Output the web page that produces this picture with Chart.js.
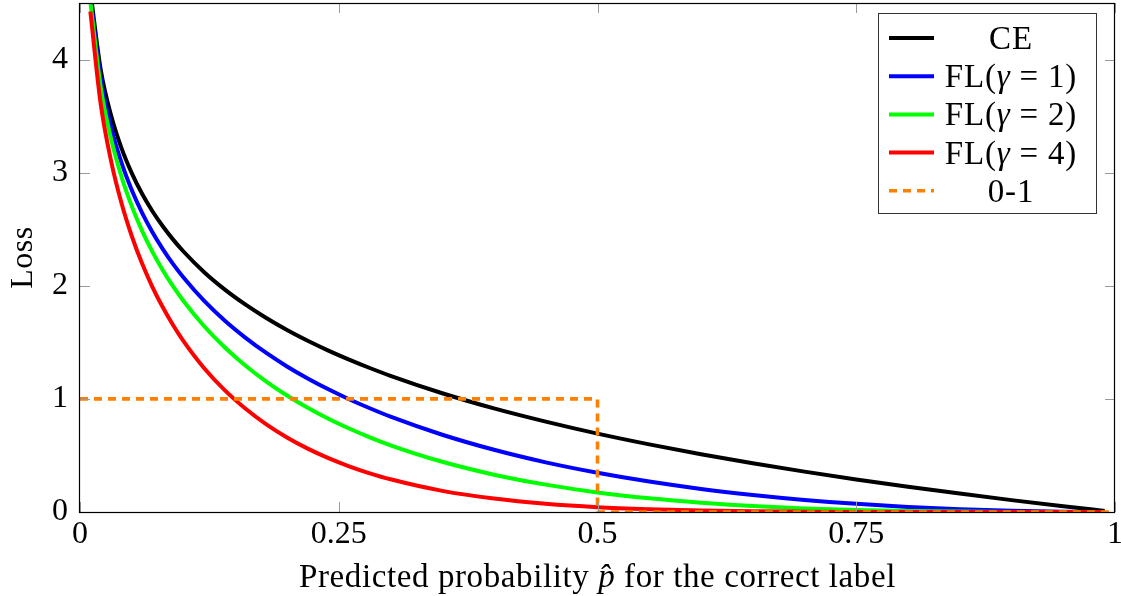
<!DOCTYPE html>
<html>
<head>
<meta charset="utf-8">
<title>Loss versus predicted probability</title>
<script src="https://cdn.jsdelivr.net/npm/chart.js@4/dist/chart.umd.min.js"></script>
<style>
  html, body { margin: 0; padding: 0; background: #ffffff; }
  #wrap { width: 1121px; height: 596px; }
</style>
</head>
<body>
<div id="wrap"><canvas id="lossChart" width="1121" height="596"></canvas></div>
<script>
// Predicted probability of the correct label (sample positions)
const probs = [0.01, 0.02, 0.03, 0.04, 0.05, 0.06, 0.07, 0.08, 0.09, 0.10,
               0.12, 0.14, 0.16, 0.18, 0.20, 0.22, 0.24, 0.26, 0.28, 0.30,
               0.35, 0.40, 0.45, 0.50, 0.55, 0.60, 0.65, 0.70, 0.75, 0.80,
               0.85, 0.90, 0.95, 0.99];

// Cross-entropy loss
const ceLoss = [4.605, 3.912, 3.507, 3.219, 2.996, 2.813, 2.659, 2.526, 2.408, 2.303,
                2.120, 1.966, 1.833, 1.715, 1.609, 1.514, 1.427, 1.347, 1.273, 1.204,
                1.050, 0.916, 0.799, 0.693, 0.598, 0.511, 0.431, 0.357, 0.288, 0.223,
                0.163, 0.105, 0.051, 0.010];
// Focal loss, gamma = 1
const flG1 = [4.559, 3.834, 3.402, 3.090, 2.846, 2.644, 2.473, 2.324, 2.191, 2.073,
              1.866, 1.691, 1.540, 1.406, 1.287, 1.181, 1.085, 0.997, 0.917, 0.843,
              0.683, 0.550, 0.439, 0.347, 0.269, 0.204, 0.151, 0.107, 0.072, 0.045,
              0.024, 0.011, 0.003, 0.000];
// Focal loss, gamma = 2
const flG2 = [4.514, 3.757, 3.300, 2.967, 2.704, 2.486, 2.300, 2.138, 1.994, 1.865,
              1.642, 1.454, 1.293, 1.153, 1.030, 0.921, 0.824, 0.738, 0.660, 0.590,
              0.444, 0.330, 0.242, 0.173, 0.121, 0.082, 0.053, 0.032, 0.018, 0.009,
              0.004, 0.001, 0.000, 0.000];
// Focal loss, gamma = 4
const flG4 = [4.424, 3.608, 3.105, 2.734, 2.440, 2.196, 1.989, 1.810, 1.651, 1.511,
              1.271, 1.075, 0.913, 0.775, 0.659, 0.560, 0.476, 0.404, 0.342, 0.289,
              0.187, 0.119, 0.073, 0.043, 0.025, 0.013, 0.006, 0.003, 0.001, 0.000,
              0.000, 0.000, 0.000, 0.000];

// 0-1 loss step
const zeroOneX = [0, 0.5, 0.5, 1];
const zeroOneY = [1, 1, 0, 0];

// Axis ticks
const xTicks = [0, 0.25, 0.5, 0.75, 1];
const xTickLabels = ['0', '0.25', '0.5', '0.75', '1'];
const yTicks = [0, 1, 2, 3, 4];
const yTickLabels = ['0', '1', '2', '3', '4'];

// Legend entries: text pieces, italic flag for math symbols
const legendNames = [
  [['CE', false]],
  [['FL(', false], ['\u03B3', true], [' = 1)', false]],
  [['FL(', false], ['\u03B3', true], [' = 2)', false]],
  [['FL(', false], ['\u03B3', true], [' = 4)', false]],
  [['0-1', false]]
];

const SERIF = '"Liberation Serif", "Times New Roman", serif';
const FONT_PX = 32;

function pts(xs, ys) { return xs.map((x, i) => ({ x: x, y: ys[i] })); }

const curveStyle = {
  borderWidth: 4,
  pointRadius: 0,
  pointHoverRadius: 0,
  fill: false,
  cubicInterpolationMode: 'monotone'
};

const datasets = [
  Object.assign({ label: 'CE', data: pts(probs, ceLoss), borderColor: '#000000', order: 5 }, curveStyle),
  Object.assign({ label: 'FL1', data: pts(probs, flG1), borderColor: '#0000ff', order: 4 }, curveStyle),
  Object.assign({ label: 'FL2', data: pts(probs, flG2), borderColor: '#00ff00', order: 3 }, curveStyle),
  Object.assign({ label: 'FL4', data: pts(probs, flG4), borderColor: '#ff0000', order: 2 }, curveStyle),
  {
    label: '0-1', data: pts(zeroOneX, zeroOneY), borderColor: '#ff8000',
    borderWidth: 3.6, borderDash: [8, 6], pointRadius: 0, pointHoverRadius: 0,
    fill: false, tension: 0, order: 1
  }
];

// Draws a run of text pieces (upright / italic) centred on cx
function drawRich(ctx, parts, cx, baseY, size, spacing) {
  ctx.letterSpacing = (spacing || 0) + 'px';
  let total = 0;
  const widths = parts.map(([t, it]) => {
    ctx.font = (it ? 'italic ' : '') + size + 'px ' + SERIF;
    const w = ctx.measureText(t).width;
    total += w;
    return w;
  });
  let x = cx - total / 2;
  parts.forEach(([t, it], i) => {
    ctx.font = (it ? 'italic ' : '') + size + 'px ' + SERIF;
    ctx.fillText(t, x, baseY);
    x += widths[i];
  });
  ctx.letterSpacing = '0px';
}

// Frame, inward tick marks, axis titles and boxed legend
const axisDecor = {
  id: 'axisDecor',
  afterDatasetsDraw(chart) {
    const { ctx, chartArea: a, scales } = chart;
    const tick = 10;
    ctx.save();
    ctx.strokeStyle = '#9a9a9a';
    ctx.lineWidth = 1;
    ctx.beginPath();
    xTicks.forEach(v => {
      const px = Math.round(scales.x.getPixelForValue(v)) + 0.5;
      ctx.moveTo(px, a.bottom); ctx.lineTo(px, a.bottom - tick);
      ctx.moveTo(px, a.top); ctx.lineTo(px, a.top + tick);
    });
    yTicks.forEach(v => {
      const py = Math.round(scales.y.getPixelForValue(v)) + 0.5;
      ctx.moveTo(a.left, py); ctx.lineTo(a.left + tick, py);
      ctx.moveTo(a.right, py); ctx.lineTo(a.right - tick, py);
    });
    ctx.stroke();

    ctx.strokeStyle = '#000000';
    ctx.lineWidth = 1.2;
    ctx.strokeRect(Math.round(a.left) - 0.5, Math.round(a.top) + 0.5,
                   Math.round(a.right - a.left), Math.round(a.bottom - a.top));
    ctx.restore();
  },
  afterDraw(chart) {
    const { ctx, chartArea: a } = chart;
    ctx.save();
    ctx.fillStyle = '#000000';
    ctx.textBaseline = 'alphabetic';
    ctx.textAlign = 'left';

    // x-axis title
    drawRich(ctx, [['Predicted probability ', false], ['p\u0302', true], [' for the correct label', false]],
             (a.left + a.right) / 2, 587, FONT_PX + 1, 0.6);

    // y-axis title
    ctx.save();
    ctx.translate(32, (a.top + a.bottom) / 2);
    ctx.rotate(-Math.PI / 2);
    drawRich(ctx, [['Loss', false]], 0, 0, FONT_PX, 0.5);
    ctx.restore();

    // legend box
    const bx = 878, by = 13, bw = 218, bh = 200;
    ctx.fillStyle = '#ffffff';
    ctx.fillRect(bx, by, bw, bh);
    ctx.strokeStyle = '#333333';
    ctx.lineWidth = 1;
    ctx.strokeRect(bx + 0.5, by + 0.5, bw, bh);

    datasets.forEach((ds, i) => {
      const cy = 38 + i * 38.2;
      ctx.save();
      ctx.strokeStyle = ds.borderColor;
      ctx.lineWidth = ds.borderWidth;
      ctx.setLineDash(ds.borderDash || []);
      ctx.beginPath();
      ctx.moveTo(889, cy);
      ctx.lineTo(934, cy);
      ctx.stroke();
      ctx.restore();
      ctx.fillStyle = '#000000';
      drawRich(ctx, legendNames[i], 1011, cy + 11, FONT_PX + 1, 0.8);
    });
    ctx.restore();
  }
};

const tickFont = { family: SERIF, size: FONT_PX, lineHeight: 1.2 };

new Chart(document.getElementById('lossChart').getContext('2d'), {
  type: 'line',
  data: { datasets: datasets },
  options: {
    responsive: false,
    animation: false,
    devicePixelRatio: 1,
    layout: { padding: { top: 3, right: 6, left: 0, bottom: 0 } },
    plugins: { legend: { display: false }, tooltip: { enabled: false } },
    scales: {
      x: {
        type: 'linear', min: 0, max: 1,
        grid: { display: false, drawTicks: false },
        border: { display: false },
        afterBuildTicks: s => { s.ticks = xTicks.map(v => ({ value: v })); },
        afterFit: s => { s.height = 84; s.paddingLeft = 0; s.paddingRight = 0; },
        ticks: {
          autoSkip: false, maxRotation: 0, padding: 3, color: '#000000', font: tickFont,
          callback: v => xTickLabels[xTicks.indexOf(v)]
        }
      },
      y: {
        type: 'linear', min: 0, max: 4.5,
        grid: { display: false, drawTicks: false },
        border: { display: false },
        afterBuildTicks: s => { s.ticks = yTicks.map(v => ({ value: v })); },
        afterFit: s => { s.width = 80; s.paddingTop = 0; s.paddingBottom = 0; },
        ticks: {
          autoSkip: false, padding: 12, color: '#000000', font: tickFont,
          callback: v => yTickLabels[yTicks.indexOf(v)]
        }
      }
    }
  },
  plugins: [axisDecor]
});
</script>
</body>
</html>
